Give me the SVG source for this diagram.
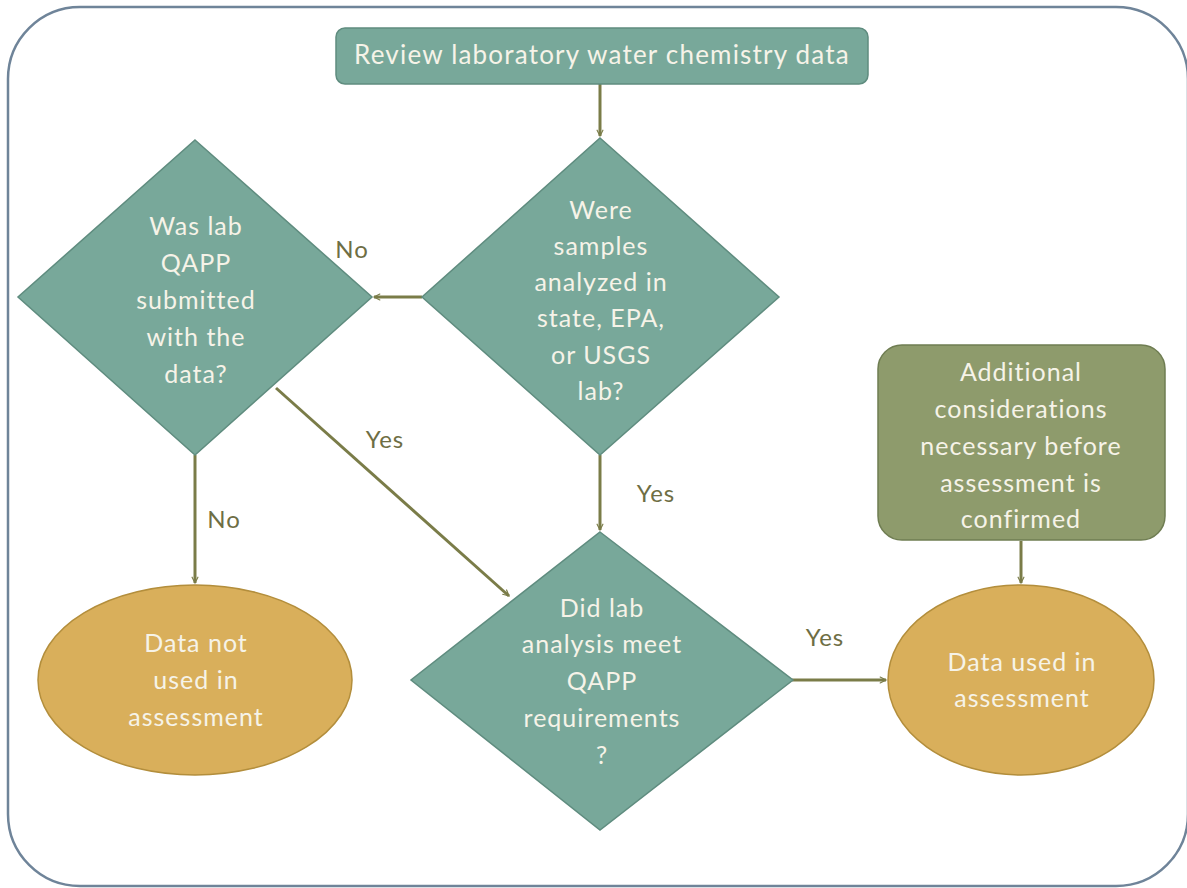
<svg xmlns="http://www.w3.org/2000/svg" width="1187" height="888" viewBox="0 0 1187 888">
<defs>
<style>
.t{font-family:Lato,"Liberation Sans",sans-serif;font-size:25px;letter-spacing:1px;fill:#F6F3E8;text-anchor:middle}
.lb{font-family:Lato,"Liberation Sans",sans-serif;font-size:24px;letter-spacing:1px;fill:#6E6E44;text-anchor:middle}
.teal{fill:#78A89A;stroke:#5F8C7F;stroke-width:1.5}
.gold{fill:#D9AF5B;stroke:#B38E3C;stroke-width:1.5}
.olive{fill:#8E9B6C;stroke:#6F7D52;stroke-width:1.5}
.c{stroke:#7A7C48;stroke-width:3;fill:none;marker-end:url(#ah)}
</style>
<marker id="ah" viewBox="0 0 12 12" refX="11" refY="6" markerWidth="7" markerHeight="7" markerUnits="userSpaceOnUse" orient="auto" overflow="visible">
<path d="M1,1 L11,6 L1,11" fill="none" stroke="#7A7C48" stroke-width="2" stroke-linecap="round"/>
</marker>
</defs>
<rect x="8" y="7" width="1180" height="879" rx="72" fill="#FFFFFF" stroke="#6F8499" stroke-width="2.5"/>

<g id="connectors">
<line class="c" x1="600" y1="84" x2="600" y2="136"/>
<line class="c" x1="422" y1="297" x2="374" y2="297"/>
<line class="c" x1="195" y1="455" x2="195" y2="583"/>
<line class="c" x1="276" y1="388" x2="509" y2="596"/>
<line class="c" x1="600" y1="455" x2="600" y2="530"/>
<line class="c" x1="792" y1="680" x2="886" y2="680"/>
<line class="c" x1="1021" y1="541" x2="1021" y2="583"/>
<text class="lb" x="352" y="258">No</text>
<text class="lb" x="224" y="528">No</text>
<text class="lb" x="385" y="448">Yes</text>
<text class="lb" x="656" y="502">Yes</text>
<text class="lb" x="825" y="646">Yes</text>
</g>

<g id="start">
<rect class="teal" x="336" y="28" width="532" height="56" rx="9"/>
<text class="t" x="602" y="64" style="font-size:26px;letter-spacing:1.2px">Review laboratory water chemistry data</text>
</g>

<g id="q-lab">
<polygon class="teal" points="600,138 779,297 600,455 422,297"/>
<text class="t" x="601" y="219">Were</text>
<text class="t" x="601" y="255">samples</text>
<text class="t" x="601" y="291">analyzed in</text>
<text class="t" x="601" y="327">state, EPA,</text>
<text class="t" x="601" y="364">or USGS</text>
<text class="t" x="601" y="400">lab?</text>
</g>

<g id="q-qapp">
<polygon class="teal" points="195,140 372,297 195,455 18,297"/>
<text class="t" x="196" y="235">Was lab</text>
<text class="t" x="196" y="272">QAPP</text>
<text class="t" x="196" y="309">submitted</text>
<text class="t" x="196" y="346">with the</text>
<text class="t" x="196" y="383">data?</text>
</g>

<g id="not-used">
<ellipse class="gold" cx="195" cy="680" rx="157" ry="95"/>
<text class="t" x="196" y="652">Data not</text>
<text class="t" x="196" y="689">used in</text>
<text class="t" x="196" y="726">assessment</text>
</g>

<g id="q-meet">
<polygon class="teal" points="600,532 793,680 600,830 411,680"/>
<text class="t" x="602" y="617">Did lab</text>
<text class="t" x="602" y="653">analysis meet</text>
<text class="t" x="602" y="690">QAPP</text>
<text class="t" x="602" y="727">requirements</text>
<text class="t" x="602" y="764">?</text>
</g>

<g id="additional">
<rect class="olive" x="878" y="345" width="287" height="195" rx="24"/>
<text class="t" x="1021" y="381">Additional</text>
<text class="t" x="1021" y="418">considerations</text>
<text class="t" x="1021" y="455">necessary before</text>
<text class="t" x="1021" y="492">assessment is</text>
<text class="t" x="1021" y="528">confirmed</text>
</g>

<g id="used">
<ellipse class="gold" cx="1021" cy="680" rx="133" ry="95"/>
<text class="t" x="1022" y="671">Data used in</text>
<text class="t" x="1022" y="707">assessment</text>
</g>
</svg>
